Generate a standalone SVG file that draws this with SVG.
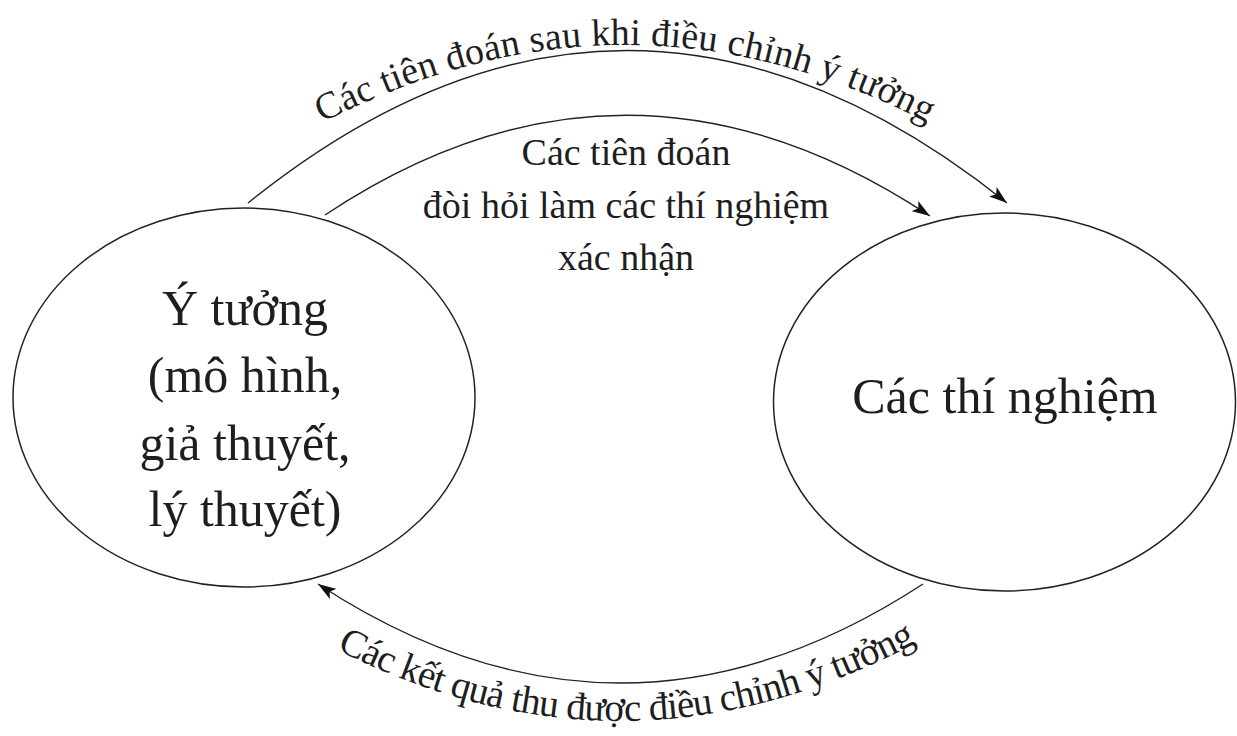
<svg xmlns="http://www.w3.org/2000/svg" width="1237" height="736" viewBox="0 0 1237 736">
<style>
  .node { fill: #ffffff; stroke: #222222; stroke-width: 1.5; }
  .conn { fill: none; stroke: #222222; stroke-width: 1.4; }
  .big { font-family: "Liberation Serif", "Times New Roman", serif; font-size: 50px; fill: #1e1e1e; text-anchor: middle; }
  .mid { font-family: "Liberation Serif", "Times New Roman", serif; font-size: 38px; fill: #1e1e1e; text-anchor: middle; }
  .lbl { font-family: "Liberation Serif", "Times New Roman", serif; font-size: 38px; fill: #1e1e1e; }
</style>
<defs>
  <marker id="arrow" viewBox="0 0 18 12" refX="18" refY="6" markerWidth="18" markerHeight="12" markerUnits="userSpaceOnUse" orient="auto">
    <path d="M0,0 L18,6 L0,12 L4,6 Z" fill="#111111"/>
  </marker>
  <path id="topTextPath" d="M285,143 Q625,-53 965,143"/>
  <path id="botTextPath" d="M290,624 Q620,818 950,624"/>
</defs>
<rect width="1237" height="736" fill="#ffffff"/>
<g id="connectors">
  <path id="c-outer" class="conn" d="M248,203 Q626,-102 1007,203" marker-end="url(#arrow)"/>
  <path id="c-inner" class="conn" d="M325,215 Q626,15 930,216" marker-end="url(#arrow)"/>
  <path id="c-bottom" class="conn" d="M923,584 Q620,782 318,584" marker-end="url(#arrow)"/>
  <text class="lbl"><textPath href="#topTextPath" startOffset="50%" text-anchor="middle" textLength="631" lengthAdjust="spacing">Các tiên đoán sau khi điều chỉnh ý tưởng</textPath></text>
  <text class="lbl" style="font-size:39px"><textPath href="#botTextPath" startOffset="53" textLength="605" lengthAdjust="spacing">Các kết quả thu được điều chỉnh ý tưởng</textPath></text>
  <g id="mid-label">
    <text class="mid" x="626" y="165">Các tiên đoán</text>
    <text class="mid" x="626" y="218">đòi hỏi làm các thí nghiệm</text>
    <text class="mid" x="626" y="270">xác nhận</text>
  </g>
</g>
<g id="node-idea">
  <ellipse class="node" cx="244" cy="397.5" rx="231" ry="189.5"/>
  <text class="big" x="245" y="325">Ý tưởng</text>
  <text class="big" x="245" y="392">(mô hình,</text>
  <text class="big" x="245" y="460">giả thuyết,</text>
  <text class="big" x="245" y="526">lý thuyết)</text>
</g>
<g id="node-experiments">
  <ellipse class="node" cx="1004.5" cy="402" rx="231" ry="189"/>
  <text class="big" x="1005" y="413">Các thí nghiệm</text>
</g>
</svg>
